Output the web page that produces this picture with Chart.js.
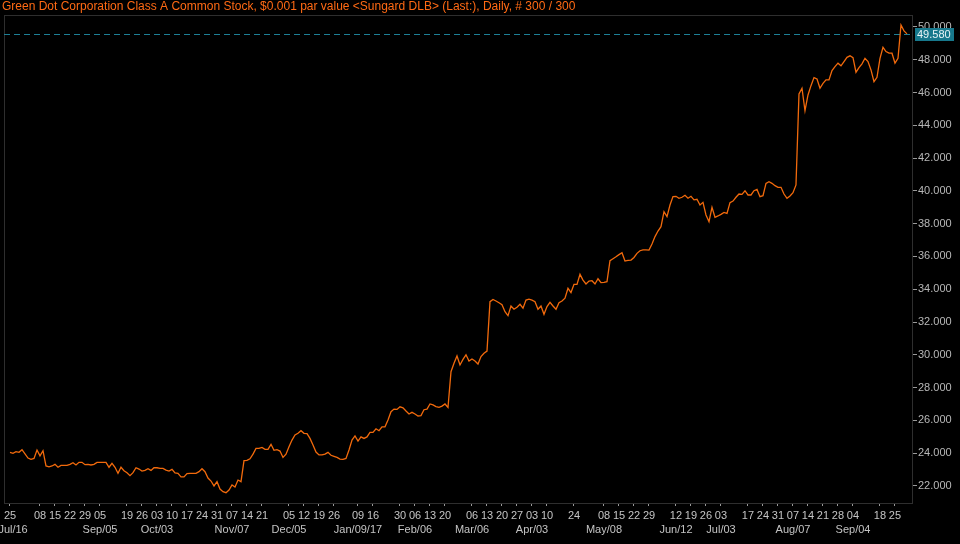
<!DOCTYPE html>
<html>
<head>
<meta charset="utf-8">
<script src="https://cdn.jsdelivr.net/npm/chart.js@4.4.1/dist/chart.umd.min.js"></script>
<style>
  html, body { margin: 0; padding: 0; background: #000; }
  canvas { display: block; }
</style>
</head>
<body>
<canvas id="priceChart" width="960" height="544"></canvas>
<script>
// daily closes, Jul 25 2016 .. Sep 29 2017 (300 sessions)
const prices = [
  24.05, 23.99, 24.09, 24.05, 24.21, 23.95, 23.70, 23.62, 23.68, 24.19,
  23.84, 24.15, 23.22, 23.16, 23.22, 23.32, 23.14, 23.25, 23.25, 23.25,
  23.32, 23.42, 23.28, 23.44, 23.44, 23.30, 23.32, 23.28, 23.32, 23.44,
  23.44, 23.44, 23.44, 23.14, 23.38, 23.14, 22.77, 23.14, 22.93, 22.81,
  22.63, 22.81, 23.11, 23.03, 22.91, 22.95, 23.05, 22.95, 23.11, 23.11,
  23.07, 23.07, 22.97, 22.91, 23.01, 22.79, 22.77, 22.55, 22.55, 22.75,
  22.77, 22.77, 22.77, 22.87, 23.05, 22.87, 22.48, 22.30, 22.00, 22.26,
  21.81, 21.65, 21.59, 21.75, 22.06, 21.93, 22.36, 22.26, 23.54, 23.56,
  23.66, 23.94, 24.29, 24.29, 24.35, 24.23, 24.23, 24.54, 24.17, 24.21,
  24.13, 23.74, 23.94, 24.39, 24.80, 25.11, 25.21, 25.37, 25.21, 25.19,
  24.90, 24.50, 24.07, 23.89, 23.89, 23.94, 24.05, 23.87, 23.81, 23.74,
  23.64, 23.62, 23.68, 24.19, 24.80, 25.05, 24.74, 24.99, 24.90, 24.99,
  25.27, 25.27, 25.49, 25.37, 25.61, 25.61, 26.02, 26.53, 26.69, 26.67,
  26.83, 26.77, 26.57, 26.39, 26.49, 26.39, 26.27, 26.29, 26.65, 26.69,
  27.00, 26.94, 26.84, 26.79, 26.87, 27.00, 26.79, 28.97, 29.48, 29.93,
  29.38, 29.72, 30.00, 29.62, 29.74, 29.62, 29.44, 29.89, 30.09, 30.23,
  33.24, 33.38, 33.28, 33.18, 33.06, 32.63, 32.39, 32.98, 32.78, 32.90,
  33.08, 32.84, 33.34, 33.40, 33.34, 33.24, 32.78, 32.98, 32.47, 32.94,
  33.20, 32.98, 32.78, 33.18, 33.28, 33.45, 34.06, 33.80, 34.30, 34.30,
  34.91, 34.56, 34.32, 34.50, 34.52, 34.32, 34.64, 34.40, 34.42, 34.46,
  35.74, 35.86, 35.98, 36.11, 36.23, 35.72, 35.76, 35.78, 35.94, 36.19,
  36.35, 36.40, 36.40, 36.39, 36.76, 37.21, 37.55, 37.82, 38.73, 38.43,
  39.14, 39.65, 39.67, 39.55, 39.61, 39.73, 39.55, 39.67, 39.45, 39.49,
  39.14, 39.30, 38.53, 38.12, 39.00, 38.39, 38.47, 38.57, 38.69, 38.63,
  39.28, 39.38, 39.61, 39.81, 39.79, 40.01, 39.75, 39.75, 40.01, 40.09,
  39.65, 39.71, 40.46, 40.56, 40.46, 40.32, 40.22, 40.22, 39.81, 39.55,
  39.69, 39.89, 40.36, 45.91, 46.26, 44.89, 45.85, 46.42, 46.91, 46.83,
  46.26, 46.56, 46.77, 46.77, 47.34, 47.58, 47.79, 47.63, 47.89, 48.15,
  48.24, 48.13, 47.24, 47.52, 47.75, 48.09, 47.89, 47.38, 46.66, 46.93,
  48.09, 48.76, 48.50, 48.40, 48.40, 47.79, 48.09, 50.12, 49.76, 49.58
];

// session index of each weekly tick, and its two label lines
const tickPos = [0, 10, 15, 20, 25, 30, 39, 44, 49, 54, 59, 64, 69, 74, 79, 84,
  93, 98, 103, 108, 116, 121, 130, 135, 140, 145, 154, 159, 164, 169, 174, 179,
  188, 198, 203, 208, 213, 222, 227, 232, 237, 246, 251, 256, 261, 266, 271, 276,
  281, 290, 295];
const tickDay = ['25', '08', '15', '22', '29', '05', '19', '26', '03', '10', '17', '24', '31', '07', '14', '21',
  '05', '12', '19', '26', '09', '16', '30', '06', '13', '20', '06', '13', '20', '27', '03', '10',
  '24', '08', '15', '22', '29', '12', '19', '26', '03', '17', '24', '31', '07', '14', '21', '28',
  '04', '18', '25'];
const tickMonth = ['  Jul/16', '', '', '', '', 'Sep/05', '', '', 'Oct/03', '', '', '', '', 'Nov/07', '', '',
  'Dec/05', '', '', '', 'Jan/09/17', '', '', 'Feb/06', '', '', 'Mar/06', '', '', '', 'Apr/03', '',
  '', 'May/08', '', '', '', 'Jun/12', '', '', 'Jul/03', '', '', '', 'Aug/07', '', '', '',
  'Sep/04', '', ''];

const title = 'Green Dot Corporation Class A Common Stock, $0.001 par value <Sungard DLB> (Last:), Daily, # 300 / 300';
const lastPrice = prices[prices.length - 1];

const bgPlugin = {
  id: 'bg',
  beforeDraw(chart) {
    const ctx = chart.ctx;
    ctx.save();
    ctx.fillStyle = '#000';
    ctx.fillRect(0, 0, chart.width, chart.height);
    ctx.restore();
  },
  beforeDatasetsDraw(chart) {
    const { ctx, chartArea: a, scales } = chart;
    ctx.save();
    ctx.strokeStyle = '#2e2e2e';
    ctx.lineWidth = 1;
    ctx.strokeRect(a.left + 0.5, a.top + 0.5, a.right - a.left, a.bottom - a.top);
    // last value guide
    const y = Math.round(scales.y.getPixelForValue(lastPrice)) + 0.5;
    ctx.strokeStyle = '#1d7f96';
    ctx.setLineDash([6, 4]);
    ctx.beginPath();
    ctx.moveTo(a.left, y);
    ctx.lineTo(a.right, y);
    ctx.stroke();
    ctx.restore();
  },
  afterDraw(chart) {
    const { ctx, chartArea: a, scales } = chart;
    const y = Math.round(scales.y.getPixelForValue(lastPrice));
    ctx.save();
    ctx.fillStyle = '#17788c';
    ctx.fillRect(a.right + 3, y - 6, 39, 13);
    ctx.fillStyle = '#e8f4f6';
    ctx.font = '11px "Liberation Sans", Arial, sans-serif';
    ctx.textBaseline = 'middle';
    ctx.textAlign = 'left';
    ctx.fillText(lastPrice.toFixed(3), a.right + 5, y + 1);
    ctx.restore();
  }
};

const ctx = document.getElementById('priceChart').getContext('2d');
const priceChart = new Chart(ctx, {
  type: 'line',
  data: {
    datasets: [{
      data: prices.map((v, i) => ({ x: i, y: v })),
      borderColor: '#f26a0c',
      borderWidth: 1.3,
      pointRadius: 0,
      tension: 0,
      fill: false
    }]
  },
  options: {
    responsive: false,
    animation: false,
    layout: { padding: { left: 2, top: 0, right: 0, bottom: 0 } },
    plugins: {
      legend: { display: false },
      tooltip: { enabled: false },
      title: {
        display: true,
        text: title,
        align: 'start',
        color: '#ff6a14',
        font: { family: '"Liberation Sans", Arial, sans-serif', size: 12, weight: 'normal', lineHeight: 1 },
        padding: { top: 1, bottom: 2 }
      }
    },
    scales: {
      x: {
        type: 'linear',
        min: -2,
        max: 300.67,
        afterBuildTicks: s => { s.ticks = tickPos.map(p => ({ value: p })); },
        afterFit: s => { s.height = 41; s.paddingLeft = 4; s.paddingRight = 0; },
        grid: { drawOnChartArea: false, tickLength: 3, tickColor: '#9a9a9a' },
        border: { color: '#2e2e2e' },
        ticks: {
          autoSkip: false,
          maxRotation: 0,
          padding: 2,
          color: '#c4c4c4',
          font: { family: '"Liberation Sans", Arial, sans-serif', size: 11, lineHeight: 1.36 },
          callback: (v, i) => [tickDay[i], tickMonth[i]]
        }
      },
      y: {
        position: 'right',
        min: 20.96,
        max: 50.73,
        afterFit: s => { s.width = 48; s.paddingTop = 0; s.paddingBottom = 0; },
        grid: { drawOnChartArea: false, tickLength: 5, tickColor: '#9a9a9a' },
        border: { color: '#2e2e2e' },
        ticks: {
          stepSize: 2,
          includeBounds: false,
          padding: 1,
          color: '#b8b8b8',
          font: { family: '"Liberation Sans", Arial, sans-serif', size: 11 },
          callback: v => v.toFixed(3)
        }
      }
    }
  },
  plugins: [bgPlugin]
});
</script>
</body>
</html>
